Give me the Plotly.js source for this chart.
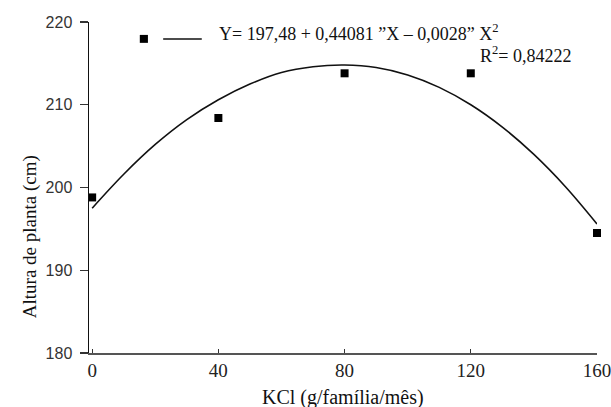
<!DOCTYPE html>
<html>
<head>
<meta charset="utf-8">
<script src="https://cdn.plot.ly/plotly-3.0.1.min.js"></script>
<style>html,body{margin:0;padding:0;background:#fff;}#chart{width:611px;height:407px;}</style>
</head>
<body>
<div id="chart"></div>
<script>
const doses = [0, 40, 80, 120, 160];
const alturas = [198.8, 208.4, 213.8, 213.8, 194.5];

// Fitted curve
const curveX = [0, 10, 20, 30, 40, 50, 60, 70, 80, 90, 100, 110, 120, 130, 140, 150, 160];
const curveY = [197.5, 201.6, 205.2, 208.2, 210.6, 212.5, 213.9, 214.6, 214.8, 214.5, 213.6, 212.1, 210.0, 207.3, 204.0, 200.1, 195.6];

const xTicks = [0, 40, 80, 120, 160];
const yTicks = [180, 190, 200, 210, 220];

const eqText = 'Y= 197,48 + 0,44081 ”X – 0,0028” X<sup>2</sup>';
const r2Text = 'R<sup>2</sup>= 0,84222';
const xTitle = 'KCl (g/família/mês)';
const yTitle = 'Altura de planta (cm)';

const serif = 'Liberation Serif';
const sans = 'Liberation Sans';

const traces = [
  {x: curveX, y: curveY, mode: 'lines', line: {color: '#111', width: 1.6, shape: 'spline'}, hoverinfo: 'skip', showlegend: false},
  {x: doses, y: alturas, mode: 'markers', marker: {symbol: 'square', size: 8, color: '#000'}, showlegend: false, cliponaxis: false}
];

const layout = {
  width: 611, height: 407,
  margin: {l: 89, r: 14, t: 22, b: 54},
  paper_bgcolor: '#fff', plot_bgcolor: '#fff',
  showlegend: false,
  xaxis: {
    range: [-1, 160], tickvals: xTicks, ticktext: xTicks.map(String),
    showgrid: false, zeroline: false, showline: true, linecolor: '#555', linewidth: 1.5,
    ticks: 'inside', ticklen: 4, tickcolor: '#333', tickwidth: 1.2, ticklabeloverflow: 'allow',
    tickfont: {family: serif, size: 19, color: '#222'}
  },
  yaxis: {
    range: [180, 220], tickvals: yTicks, ticktext: yTicks.map(String),
    showgrid: false, zeroline: false, showline: true, linecolor: '#111', linewidth: 1.5,
    ticks: 'outside', ticklen: 8, tickcolor: '#333', tickwidth: 1.2, ticklabelstandoff: 4,
    tickfont: {family: sans, size: 16, color: '#333'}
  },
  shapes: [
    {type: 'rect', xref: 'paper', yref: 'paper', x0: 0.100, x1: 0.116, y0: 0.937, y1: 0.961, fillcolor: '#000', line: {width: 0}},
    {type: 'line', xref: 'paper', yref: 'paper', x0: 0.146, x1: 0.222, y0: 0.949, y1: 0.949, line: {color: '#111', width: 1.5}}
  ],
  annotations: [
    {xref: 'paper', yref: 'paper', x: 0.252, y: 0.967, xanchor: 'left', yanchor: 'middle', showarrow: false,
     text: eqText, font: {family: serif, size: 18, color: '#111'}},
    {xref: 'paper', yref: 'paper', x: 0.766, y: 0.902, xanchor: 'left', yanchor: 'middle', showarrow: false,
     text: r2Text, font: {family: serif, size: 18, color: '#111'}},
    {xref: 'paper', yref: 'paper', x: 0.5, y: -0.133, xanchor: 'center', yanchor: 'middle', showarrow: false,
     text: xTitle, font: {family: serif, size: 20, color: '#111'}},
    {xref: 'paper', yref: 'paper', x: -0.116, y: 0.35, xanchor: 'center', yanchor: 'middle', showarrow: false, textangle: -90,
     text: yTitle, font: {family: serif, size: 19, color: '#111'}}
  ]
};

Plotly.newPlot('chart', traces, layout, {displayModeBar: false, staticPlot: true});
</script>
</body>
</html>
